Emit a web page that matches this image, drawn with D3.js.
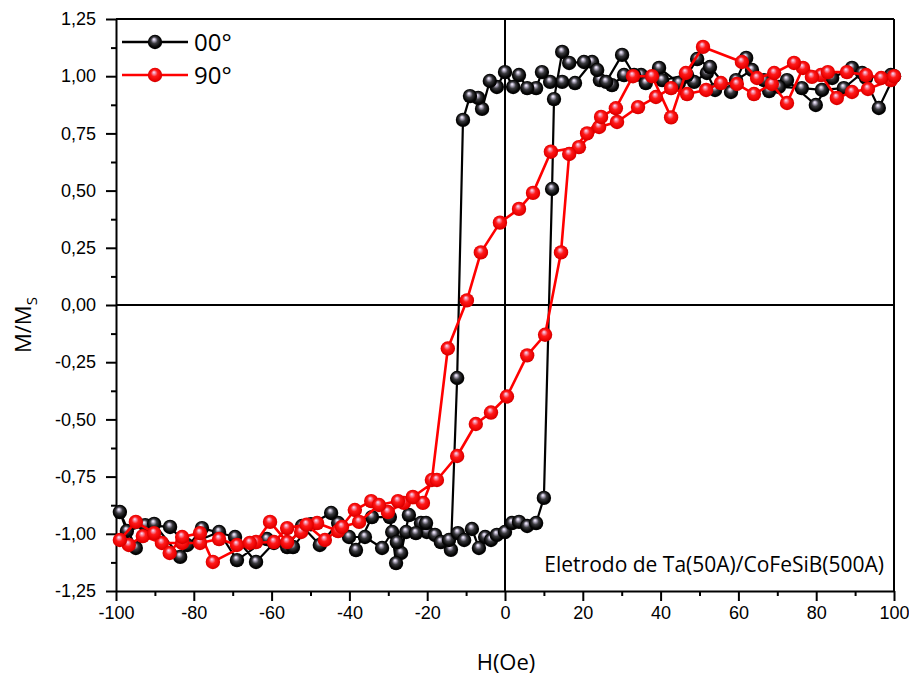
<!DOCTYPE html>
<html>
<head>
<meta charset="utf-8">
<script src="https://cdn.jsdelivr.net/npm/d3@7"></script>
<style>
  html, body { margin: 0; padding: 0; background: #fff; }
  svg { display: block; font-family: "Open Sans", "Noto Sans", sans-serif; }
</style>
</head>
<body>
<svg id="chart" width="909" height="678"></svg>
<script>
// Hysteresis loops M/Ms vs H for the two field angles.
// Each series is the measured sequence: sweep from +100 Oe down to -100 Oe, then back up.
const h00 = [99.2, 92.8, 89.2, 84.1, 79.9, 72.5, 67.9, 63.5, 59.4, 54.0, 51.9, 48.6, 44.7, 39.6, 35.0, 30.6, 27.5, 24.4, 22.4, 18.0, 14.7, 11.6, 9.5, 8.0, 5.7, 3.6, 2.1, 0, -2.1, -3.9, -5.9, -6.9, -9.0, -10.8, -12.3, -13.9, -20.1, -21.6, -24.7, -26.7, -28.0, -29.6, -34.2, -38.3, -42.9, -47.6, -52.2, -56.0, -61.2, -68.9, -73.5, -81.7, -86.1, -92.5, -97.2,
  -99.0, -94.9, -90.2, -83.5, -77.9, -69.4, -64.0, -59.4, -54.5, -49.9, -44.7, -40.1, -36.0, -31.6, -29.0, -27.8, -25.4, -22.9, -20.3, -18.0, -16.5, -14.4, -12.1, -10.5, -8.5, -6.7, -5.1, -3.6, -2.1, 0, 1.8, 3.6, 5.7, 8.0, 10.0, 12.1, 12.6, 14.7, 16.5, 20.3, 23.7, 26.0, 30.1, 33.2, 36.2, 40.4, 46.8, 49.4, 52.7, 58.1, 62.0, 66.6, 70.4, 76.3, 81.5, 87.1, 91.8, 96.1, 100];
const m00 = [1.005, 0.992, 1.036, 0.992, 0.874, 0.983, 0.935, 1.027, 0.983, 0.940, 1.014, 0.975, 0.970, 1.036, 1.005, 1.005, 0.961, 0.983, 1.062, 0.970, 0.975, 0.975, 1.018, 0.948, 0.948, 1.005, 0.953, 1.018, 0.953, 0.979, 0.857, 0.905, 0.913, 0.809, -0.319, -1.070, -0.992, -0.953, -0.918, -1.084, -1.128, -0.927, -0.927, -1.071, -0.953, -1.049, -0.966, -1.058, -1.023, -1.115, -0.992, -1.049, -0.970, -0.962, -0.988,
  -0.905, -1.062, -0.957, -1.101, -0.975, -1.014, -1.123, -1.040, -1.058, -0.958, -0.909, -1.014, -1.014, -1.062, -0.992, -1.036, -0.992, -0.997, -0.953, -1.005, -1.036, -1.027, -0.997, -1.027, -0.979, -1.062, -1.014, -1.027, -1.005, -0.992, -0.953, -0.948, -0.966, -0.953, -0.843, 0.507, 0.900, 1.106, 1.058, 1.062, 1.027, 0.975, 1.093, 1.005, 0.970, 0.983, 1.005, 1.075, 1.040, 0.931, 1.080, 0.983, 0.953, 0.948, 0.940, 0.948, 1.014, 0.861, 1.000];

const h90 = [99.2, 93.3, 89.2, 85.3, 81.2, 76.6, 72.5, 68.6, 64.0, 59.6, 55.5, 51.7, 46.8, 42.7, 38.8, 34.2, 28.8, 24.2, 19.0, 11.8, 7.2, 3.6, -1.3, -6.2, -9.8, -14.7, -18.8, -21.1, -26.0, -30.1, -34.4, -38.6, -42.9, -48.3, -52.4, -56.0, -60.4, -64.0, -68.9, -73.5, -78.4, -83.0, -88.2, -93.1, -96.7, -99.0,
  -94.9, -90.2, -86.2, -83.0, -78.4, -75.1, -65.6, -59.4, -56.0, -51.0, -46.3, -41.9, -37.5, -32.4, -27.5, -23.7, -17.5, -12.3, -7.5, -3.6, 0.5, 5.7, 10.3, 14.4, 16.5, 21.1, 24.7, 28.5, 32.9, 37.8, 42.7, 46.5, 50.9, 60.9, 64.8, 69.2, 74.3, 78.9, 83.0, 87.9, 92.8, 96.7, 100];
const m90 = [0.983, 0.944, 0.931, 0.905, 1.005, 1.036, 0.883, 0.966, 0.922, 0.966, 0.970, 0.940, 0.922, 0.948, 0.909, 0.865, 0.800, 0.778, 0.690, 0.670, 0.490, 0.420, 0.360, 0.230, 0.020, -0.190, -0.765, -0.865, -0.865, -0.905, -0.857, -0.896, -0.988, -0.953, -0.992, -1.036, -0.948, -1.036, -1.049, -1.023, -1.040, -1.040, -1.040, -1.010, -1.049, -1.027,
  -0.948, -0.997, -1.084, -1.014, -0.997, -1.123, -1.040, -1.036, -0.975, -0.960, -1.027, -0.970, -0.948, -0.874, -0.857, -0.839, -0.765, -0.660, -0.520, -0.470, -0.400, -0.220, -0.130, 0.230, 0.660, 0.750, 0.822, 0.860, 1.000, 1.000, 0.820, 1.014, 1.128, 1.062, 0.992, 1.014, 1.058, 0.997, 1.018, 1.018, 1.005, 0.992, 1.000];

const xTicks = [-100, -80, -60, -40, -20, 0, 20, 40, 60, 80, 100];
const yTicks = [-1.25, -1.0, -0.75, -0.5, -0.25, 0, 0.25, 0.5, 0.75, 1.0, 1.25];
const seriesNames = ["00°", "90°"];
const seriesColors = ["black", "red"];
const noteText = "Eletrodo de Ta(50A)/CoFeSiB(500A)";

const svg = d3.select("#chart");
const plotLeft = 116, plotRight = 894, plotTop = 19, plotBottom = 591;

const x = d3.scaleLinear().domain([-100, 100]).range([plotLeft, plotRight]);
const y = d3.scaleLinear().domain([-1.25, 1.25]).range([plotBottom, plotTop]);

// Shaded-sphere fills for the markers
const defs = svg.append("defs");
function sphere(id, stops) {
  const g = defs.append("radialGradient").attr("id", id)
    .attr("cx", "50%").attr("cy", "50%").attr("r", "55%")
    .attr("fx", "42%").attr("fy", "30%");
  stops.forEach(([o, c]) => g.append("stop").attr("offset", o).attr("stop-color", c));
}
sphere("ball-black", [[0, "#ffffff"], [0.14, "#c8c0d8"], [0.42, "#3a3a3e"], [0.75, "#050505"], [1, "#000"]]);
sphere("ball-red", [[0, "#ffe8f4"], [0.14, "#f4a0bc"], [0.42, "#ff1a1a"], [0.8, "#e80000"], [1, "#c00000"]]);

// Axes
const xMinor = d3.range(-90, 100, 20);
const yMinor = d3.range(-1.125, 1.25, 0.25);
const hyphen = s => s.replace("\u2212", "-");

const xAxis = svg.append("g").attr("transform", `translate(0,${plotBottom})`)
  .call(d3.axisBottom(x).tickValues(xTicks).tickSize(10).tickSizeOuter(0).tickPadding(5)
    .tickFormat(d => hyphen(d3.format("d")(d))));
xAxis.selectAll("text").attr("font-size", 18).attr("fill", "#000");
svg.append("g").attr("transform", `translate(0,${plotBottom})`)
  .call(d3.axisBottom(x).tickValues(xMinor).tickSize(5).tickSizeOuter(0).tickFormat(""))
  .call(g => g.select(".domain").remove());

const yFmt = d => hyphen(d3.format(".2f")(d).replace(".", ","));
const yAxis = svg.append("g").attr("transform", `translate(${plotLeft},0)`)
  .call(d3.axisLeft(y).tickValues(yTicks).tickSize(10).tickSizeOuter(0).tickPadding(10).tickFormat(yFmt));
yAxis.selectAll("text").attr("font-size", 18).attr("fill", "#000");
svg.append("g").attr("transform", `translate(${plotLeft},0)`)
  .call(d3.axisLeft(y).tickValues(yMinor).tickSize(5).tickSizeOuter(0).tickFormat(""))
  .call(g => g.select(".domain").remove());

svg.selectAll(".domain, .tick line").attr("stroke", "#000").attr("stroke-width", 2);

// Frame (top and right) and zero lines
svg.append("line").attr("x1", plotLeft).attr("x2", plotRight).attr("y1", plotTop).attr("y2", plotTop)
  .attr("stroke", "#000").attr("stroke-width", 2);
svg.append("line").attr("x1", plotRight).attr("x2", plotRight).attr("y1", plotTop).attr("y2", plotBottom)
  .attr("stroke", "#000").attr("stroke-width", 2);
svg.append("line").attr("x1", x(0)).attr("x2", x(0)).attr("y1", plotTop).attr("y2", plotBottom)
  .attr("stroke", "#000").attr("stroke-width", 2);
svg.append("line").attr("x1", plotLeft).attr("x2", plotRight).attr("y1", y(0)).attr("y2", y(0))
  .attr("stroke", "#000").attr("stroke-width", 2);

// Series
const series = [
  { h: h00, m: m00, color: seriesColors[0], fill: "url(#ball-black)", width: 2.2 },
  { h: h90, m: m90, color: seriesColors[1], fill: "url(#ball-red)", width: 2.6 }
];
const line = d3.line().x(d => x(d[0])).y(d => y(d[1]));
series.forEach(s => {
  const pts = s.h.map((v, i) => [v, s.m[i]]);
  svg.append("path").datum(pts).attr("d", line)
    .attr("fill", "none").attr("stroke", s.color).attr("stroke-width", s.width)
    .attr("stroke-linejoin", "round");
  svg.append("g").selectAll("circle").data(pts).join("circle")
    .attr("cx", d => x(d[0])).attr("cy", d => y(d[1])).attr("r", 7.2)
    .attr("fill", s.fill);
});

// Legend
seriesNames.forEach((name, i) => {
  const ly = 42 + i * 33;
  const g = svg.append("g");
  g.append("line").attr("x1", 122).attr("x2", 188).attr("y1", ly).attr("y2", ly)
    .attr("stroke", seriesColors[i]).attr("stroke-width", 2.4);
  g.append("circle").attr("cx", 155).attr("cy", ly).attr("r", 7.2)
    .attr("fill", i === 0 ? "url(#ball-black)" : "url(#ball-red)");
  g.append("text").attr("x", 194).attr("y", ly + 9).attr("font-size", 24).text(name);
});

// Sample note
svg.append("text").attr("x", 884).attr("y", 572).attr("text-anchor", "end")
  .attr("font-size", 21).text(noteText);

// Axis titles
svg.append("text").attr("x", (plotLeft + plotRight) / 2 + 1).attr("y", 670).attr("text-anchor", "middle")
  .attr("font-size", 22).text("H(Oe)");
const yt = svg.append("text").attr("transform", `translate(31,${y(0) + 48}) rotate(-90)`)
  .attr("font-size", 22);
yt.append("tspan").text("M/M");
yt.append("tspan").attr("font-size", 15).attr("dy", 6).text("S");
</script>
</body>
</html>
